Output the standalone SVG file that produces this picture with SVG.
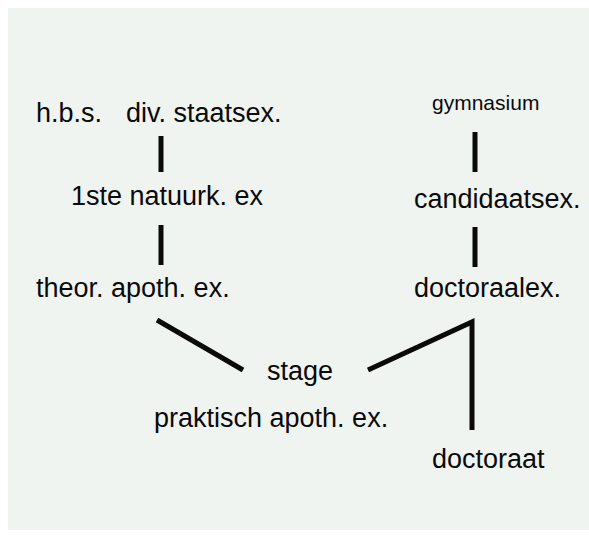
<svg xmlns="http://www.w3.org/2000/svg" width="589" height="540" viewBox="0 0 589 540">
<style>
text{font-family:"Liberation Sans",Arial,sans-serif;font-size:27px;fill:#0a0a0a}
.sm{font-size:21px}
.ln{stroke:#0a0a0a;stroke-width:5;fill:none;stroke-linejoin:miter}
</style>
<rect x="0" y="0" width="589" height="540" fill="#ffffff"/>
<rect x="8" y="8" width="581" height="522" fill="#f0f4f1"/>
<g id="connectors">
<line class="ln" x1="161" y1="136" x2="161" y2="172"/>
<line class="ln" x1="161" y1="225" x2="161" y2="265"/>
<line class="ln" x1="475" y1="132" x2="475" y2="172"/>
<line class="ln" x1="475" y1="227" x2="475" y2="267"/>
<line class="ln" x1="157" y1="320" x2="243" y2="370"/>
<polyline class="ln" points="368,370 472,322 472,430"/>
</g>
<g id="hbs"><text x="36" y="122">h.b.s.</text></g>
<g id="staatsex"><text x="126" y="122">div. staatsex.</text></g>
<g id="natuurk"><text x="71" y="205">1ste natuurk. ex</text></g>
<g id="theor"><text x="36" y="297">theor. apoth. ex.</text></g>
<g id="gymnasium"><text class="sm" x="432" y="110">gymnasium</text></g>
<g id="candidaatsex"><text x="414" y="208">candidaatsex.</text></g>
<g id="doctoraalex"><text x="414" y="297">doctoraalex.</text></g>
<g id="stage"><text x="267" y="380">stage</text></g>
<g id="praktisch"><text x="154" y="427">praktisch apoth. ex.</text></g>
<g id="doctoraat"><text x="432" y="468">doctoraat</text></g>
</svg>
